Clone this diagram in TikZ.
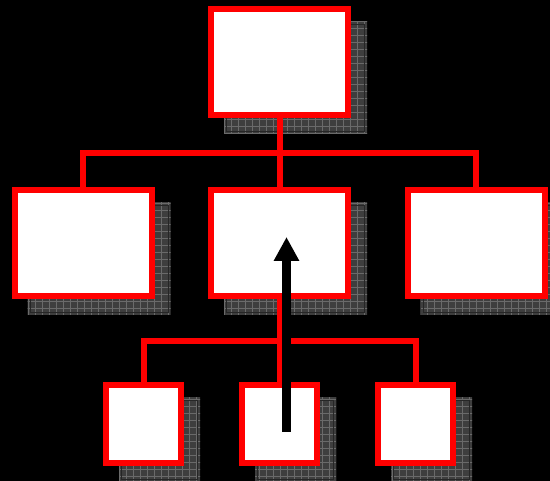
\documentclass[tikz,border=0pt]{standalone}
\usetikzlibrary{arrows.meta,calc}
\pgfdeclarelayer{canvas}
\pgfdeclarelayer{shadowlayer}
\pgfdeclarelayer{linklayer}
\pgfsetlayers{canvas,shadowlayer,linklayer,main}
\definecolor{shadowgray}{HTML}{3E3E3E}
\definecolor{gridgray}{HTML}{6A6A6A}
\tikzset{
  orgbox/.style={draw=red, fill=white, line width=6pt, inner sep=0pt, outer sep=0pt,
    minimum width=#1},
  bigbox/.style={orgbox=137pt, minimum height=106pt},
  smallbox/.style={orgbox=75pt, minimum height=78pt},
  link/.style={draw=red, line width=6pt},
  bigarrow/.style={draw=black, line width=8.5pt,
    -{Triangle[width=24pt,length=24pt]}},
}
% drop shadow with a fine grid texture behind a box
\newcommand{\gridshadow}[1]{%
  \begin{pgfonlayer}{shadowlayer}
    \begin{scope}
      \clip ([shift={(13,13)}]#1.north west) rectangle ([shift={(19,19)}]#1.south east);
      \fill[shadowgray] (0,0) rectangle (560,490);
      \draw[gridgray, line width=0.6pt, step=7pt] (0,0) grid (560,490);
      \draw[black!85, line width=0.8pt]
        ([shift={(15.5,15.5)}]#1.north west) rectangle ([shift={(16.5,16.5)}]#1.south east);
    \end{scope}
  \end{pgfonlayer}}
\begin{document}
\begin{tikzpicture}[x=1pt,y=-1pt]
  \begin{pgfonlayer}{canvas}
    \fill[black] (0,0) rectangle (550,481);
  \end{pgfonlayer}
  \useasboundingbox (0,0) rectangle (550,481);

  % boxes
  \node[bigbox] (top) at (279.5,62) {};
  \node[bigbox] (left) at (83,243) {};
  \node[bigbox] (mid) at (279.5,243) {};
  \node[bigbox] (right) at (476,243) {};
  \node[smallbox] (bl) at (143.5,424) {};
  \node[smallbox] (bm) at (279.5,424) {};
  \node[smallbox] (br) at (415.5,424) {};

  \foreach \b in {top,left,mid,right,bl,bm,br}{\gridshadow{\b}}

  % connectors
  \coordinate (bus1) at (279.5,153);
  \coordinate (bus2) at (279.5,341);
  \begin{pgfonlayer}{linklayer}
    \draw[link] (top.south) -- (bus1);
    \draw[link] (bus1) -| (left.north);
    \draw[link] (bus1) -| (right.north);
    \draw[link] (bus1) -- (mid.north);
    \draw[link] (mid.south) -- (bus2);
    \draw[link] (bus2) -| (bl.north);
    \draw[link] (bus2) -| (br.north);
    \draw[link] (bus2) -- (bm.north);
  \end{pgfonlayer}

  % upward arrow
  \coordinate (arrowfoot) at (286.5,432);
  \coordinate (arrowtip) at (286.5,237);
  \draw[bigarrow] (arrowfoot) -- (arrowtip);
\end{tikzpicture}
\end{document}
